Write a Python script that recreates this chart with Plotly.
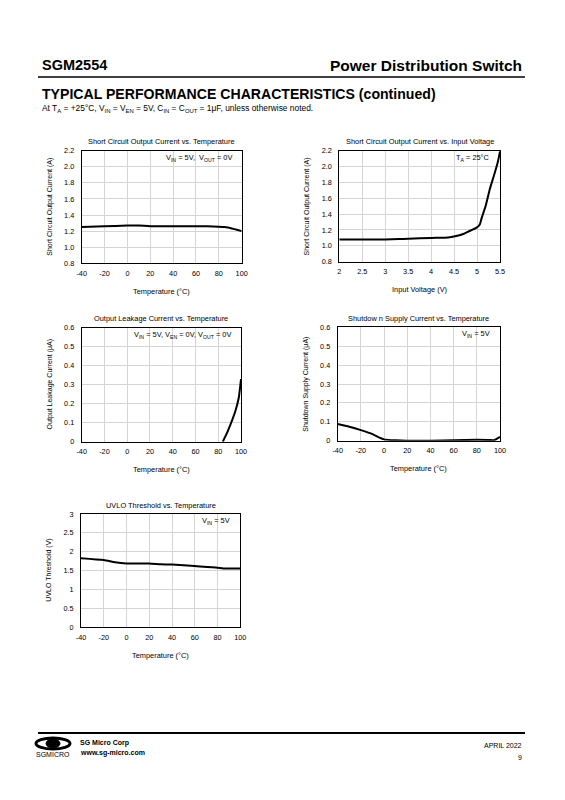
import plotly.graph_objects as go

W, H = 565, 800
FONT = "Liberation Sans, Arial, sans-serif"

# --- data ---
temp_isc = [-40, -20, 0, 10, 20, 40, 60, 70, 80, 85, 90, 95, 100]
isc_temp = [1.25, 1.26, 1.27, 1.27, 1.26, 1.26, 1.26, 1.26, 1.255, 1.25, 1.24, 1.22, 1.20]

vin_isc = [2.0, 2.5, 3.0, 3.3, 3.5, 4.0, 4.37, 4.52, 4.7, 4.81, 4.99, 5.06, 5.10, 5.19, 5.28, 5.37, 5.45, 5.5]
isc_vin = [1.08, 1.08, 1.08, 1.085, 1.09, 1.10, 1.105, 1.12, 1.15, 1.18, 1.23, 1.27, 1.35, 1.51, 1.72, 1.89, 2.05, 2.19]

temp_leak = [84, 88, 90, 92, 95, 98, 100]
leak = [0.0, 0.05, 0.08, 0.11, 0.16, 0.23, 0.33]

temp_shdn = [-40, -30, -20, -10, -4, 0, 10, 20, 40, 60, 80, 90, 95, 100]
shdn = [0.088, 0.074, 0.056, 0.035, 0.016, 0.007, 0.002, 0.0, 0.0, 0.002, 0.005, 0.004, 0.003, 0.02]

temp_uvlo = [-40, -20, -10, 0, 20, 30, 40, 60, 80, 85, 100]
uvlo = [1.83, 1.78, 1.72, 1.69, 1.69, 1.67, 1.66, 1.62, 1.58, 1.56, 1.56]

temp_ticks = [-40, -20, 0, 20, 40, 60, 80, 100]
temp_labels = ["-40", "-20", "0", "20", "40", "60", "80", "100"]
vin_ticks = [2, 2.5, 3, 3.5, 4, 4.5, 5, 5.5]
vin_labels = ["2", "2.5", "3", "3.5", "4", "4.5", "5", "5.5"]


def px(x):
    return x / W


def py(y):
    return 1 - y / H


# panels: (x, y, xrange, yrange, xticks, xlabels, ydtick, yfmt, box px [l, r, t, b])
panels = [
    (temp_isc, isc_temp, [-40, 100], [0.8, 2.2], temp_ticks, temp_labels, 0.2, ".1f", [81.7, 241.7, 150.7, 263.3]),
    (vin_isc, isc_vin, [2, 5.5], [0.8, 2.2], vin_ticks, vin_labels, 0.2, ".1f", [339.3, 500, 150.7, 261.7]),
    (temp_leak, leak, [-40, 100], [0, 0.6], temp_ticks, temp_labels, 0.1, "", [81.7, 241, 327.7, 441.7]),
    (temp_shdn, shdn, [-40, 100], [0, 0.6], temp_ticks, temp_labels, 0.1, "", [337.7, 500, 327.3, 440.7]),
    (temp_uvlo, uvlo, [-40, 100], [0, 3], temp_ticks, temp_labels, 0.5, "", [81, 240.3, 514, 627.3]),
]

titles = [
    "Short Circuit Output Current vs. Temperature",
    "Short Circuit Output Current vs. Input Voltage",
    "Output Leakage Current vs. Temperature",
    "Shutdow n Supply Current vs. Temperature",
    "UVLO Threshold vs. Temperature",
]
conds = [
    "V<sub>IN</sub> = 5V,  V<sub>OUT</sub> = 0V",
    "T<sub>A</sub> = 25°C",
    "V<sub>IN</sub> = 5V, V<sub>EN</sub> = 0V, V<sub>OUT</sub> = 0V",
    "V<sub>IN</sub> = 5V",
    "V<sub>IN</sub> = 5V",
]
xtitles = ["Temperature (°C)", "Input Voltage (V)", "Temperature (°C)", "Temperature (°C)", "Temperature (°C)"]
ytitles = [
    "Short Circuit Output Current (A)",
    "Short Circuit Output Current (A)",
    "Output Leakage Current (μA)",
    "Shutdown Supply Current (μA)",
    "UVLO Threshold (V)",
]

fig = go.Figure()
layout = {}
annotations = []
tick_font = dict(family=FONT, size=7.3, color="black")
small = dict(family=FONT, size=7.4, color="black")

for i, (xs, ys, xr, yr, xt, xl, ydt, yfmt, box) in enumerate(panels):
    n = "" if i == 0 else str(i + 1)
    l, r, t, b = box
    fig.add_trace(go.Scatter(x=xs, y=ys, mode="lines", line=dict(color="black", width=2, shape="spline", smoothing=0.6),
                             xaxis="x" + n, yaxis="y" + n, showlegend=False, hoverinfo="skip"))
    layout["xaxis" + n] = dict(domain=[px(l), px(r)], anchor="y" + n, range=xr, tickvals=xt, ticktext=xl,
                               showgrid=True, gridcolor="#d4d4d4", gridwidth=1, zeroline=False,
                               showline=True, linecolor="black", linewidth=1, mirror=True, automargin=False,
                               ticks="", ticklabelstandoff=3, tickfont=tick_font, fixedrange=True)
    layout["yaxis" + n] = dict(domain=[py(b), py(t)], anchor="x" + n, range=yr, dtick=ydt, tick0=yr[0],
                               tickformat=yfmt, showgrid=True, gridcolor="#d4d4d4", gridwidth=1, zeroline=False,
                               showline=True, linecolor="black", linewidth=1, mirror=True, automargin=False,
                               ticks="", ticklabelstandoff=5, tickfont=tick_font, fixedrange=True)
    cx = (l + r) / 2
    annotations.append(dict(x=px(cx), y=py(t - 9), xref="paper", yref="paper", text=titles[i], showarrow=False,
                            font=small, xanchor="center", yanchor="middle"))
    annotations.append(dict(x=px(r - 8), y=py(t + 7), xref="paper", yref="paper", text=conds[i], showarrow=False,
                            font=small, xanchor="right", yanchor="middle"))
    annotations.append(dict(x=px(cx), y=py(b + 28), xref="paper", yref="paper", text=xtitles[i], showarrow=False,
                            font=small, xanchor="center", yanchor="middle"))
    annotations.append(dict(x=px(l - 32), y=py((t + b) / 2), xref="paper", yref="paper", text=ytitles[i],
                            showarrow=False, textangle=-90,
                            font=dict(family=FONT, size=7, color="black"), xanchor="center", yanchor="middle"))

# page header / footer text
page_text = [
    ("SGM2554", 40, 65, "left", 14.5, True),
    ("Power Distribution Switch", 524, 65, "right", 15.5, True),
    ("TYPICAL PERFORMANCE CHARACTERISTICS (continued)", 40, 94, "left", 14.1, True),
    ("At T<sub>A</sub> = +25°C, V<sub>IN</sub> = V<sub>EN</sub> = 5V, C<sub>IN</sub> = C<sub>OUT</sub> = 1μF, unless otherwise noted.",
     40, 109, "left", 8.4, False),
    ("SG Micro Corp", 78, 743, "left", 7, True),
    ("www.sg-micro.com", 78, 753, "left", 7, True),
    ("SGMICRO", 34, 754, "left", 7, False),
    ("APRIL 2022", 524, 745, "right", 7, False),
    ("9", 524, 757, "right", 7, False),
]
for txt, x, y, anc, size, bold in page_text:
    annotations.append(dict(x=px(x), y=py(y), xref="paper", yref="paper",
                            text="<b>%s</b>" % txt if bold else txt, showarrow=False,
                            font=dict(family=FONT, size=size, color="black"), xanchor=anc, yanchor="middle"))

shapes = [
    dict(type="line", xref="paper", yref="paper", x0=px(38), x1=px(525), y0=py(77), y1=py(77),
         line=dict(color="black", width=1.5)),
    dict(type="line", xref="paper", yref="paper", x0=px(38), x1=px(525), y0=py(733), y1=py(733),
         line=dict(color="black", width=2)),
    # rough logo mark
    dict(type="circle", xref="paper", yref="paper", x0=px(36), x1=px(70), y0=py(749), y1=py(738),
         line=dict(color="black", width=3)),
    dict(type="circle", xref="paper", yref="paper", x0=px(46), x1=px(60), y0=py(748), y1=py(739),
         fillcolor="black", line=dict(color="black", width=1)),
]

fig.update_layout(width=W, height=H, margin=dict(l=0, r=0, t=0, b=0, autoexpand=False), paper_bgcolor="white",
                  plot_bgcolor="white", annotations=annotations, shapes=shapes, **layout)

# page has the browser's default 8px body margin otherwise
fig.write_html("out.html", config={"displayModeBar": False},
               post_script="document.body.style.margin='0';")
